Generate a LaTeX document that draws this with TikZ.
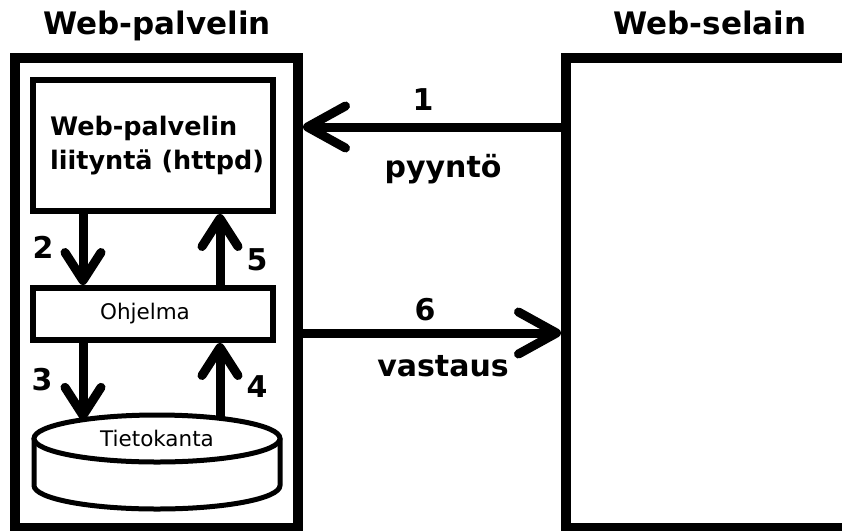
\documentclass[tikz,border=0pt]{standalone}
\usepackage{fontspec}
\setmainfont{DejaVu Sans}
\usetikzlibrary{arrows.meta,shapes.geometric}

\begin{document}
\begin{tikzpicture}[x=1pt,y=-1pt,
  box/.style={draw, rectangle, inner sep=0pt},
  outerbox/.style={box, line width=10pt},
  innerbox/.style={box, line width=6pt},
  title/.style={font=\fontsize{31}{36}\selectfont\bfseries, anchor=base},
  num/.style={font=\fontsize{30}{36}\selectfont\bfseries, anchor=base},
  small/.style={font=\fontsize{21.5}{26}\selectfont},
  harr/.style={line width=9pt, -{Straight Barb[length=38pt,width=42pt,round]}},
  varr/.style={line width=9pt, -{Straight Barb[length=28pt,width=36pt,round]}},
]
\useasboundingbox (0,0) rectangle (842,530);

% outer boxes: server and browser
\node[outerbox, minimum width=283pt, minimum height=470pt] (server) at (156.5,293) {};
\node[outerbox, minimum width=320pt, minimum height=470pt] (browser) at (726,293) {};
\node[title] (srvtitle) at (157,34) {Web-palvelin};
\node[title] (brtitle) at (710,34) {Web-selain};

% parts of the server
\node[innerbox, minimum width=240pt, minimum height=131pt, align=left,
      font=\fontsize{25.5}{34}\selectfont\bfseries] (httpd) at (153,145.5)
      {\hspace*{8pt}Web-palvelin\\\hspace*{8pt}liityntä (httpd)};
\node[innerbox, minimum width=240pt, minimum height=52pt, small] (ohjelma) at (153,314)
      {Ohjelma\hspace*{16pt}};

% database cylinder
\node[ellipse, draw, line width=5pt, outer sep=0pt, inner sep=0pt,
      minimum width=246pt, minimum height=47pt, small] (dbtop) at (157,438.5) {Tietokanta};
\draw[line width=5pt, line join=round] (dbtop.west) -- ++(0,47)
  arc[start angle=180, end angle=360, x radius=123pt, y radius=23.5pt] -- (dbtop.east);

% request and response between browser and server
\draw[harr] ([yshift=-74pt]browser.north west) -- ([yshift=-74pt]server.north east);
\draw[harr] ([yshift=-280pt]server.north east) -- ([yshift=-280pt]browser.north west);

% internal flow
\draw[varr] ([xshift=-70pt]httpd.south) -- ([xshift=-70pt]httpd.south |- ohjelma.north);
\draw[varr] ([xshift=67pt]ohjelma.north) -- ([xshift=67pt]ohjelma.north |- httpd.south);
\draw[varr] ([xshift=-70pt]ohjelma.south) -- ([xshift=-70pt]ohjelma.south |- dbtop.166);
\draw[varr] ([xshift=67pt]ohjelma.south |- dbtop.18) -- ([xshift=67pt]ohjelma.south);

% step numbers and labels
\node[num] (n1) at (423,110) {1};
\node[num] (n2) at (43,258) {2};
\node[num] (n3) at (42,390) {3};
\node[num] (n4) at (257,397) {4};
\node[num] (n5) at (257,270) {5};
\node[num] (n6) at (425,320) {6};
\node[num] (req) at (443,177) {pyyntö};
\node[num] (resp) at (443,376) {vastaus};
\end{tikzpicture}
\end{document}
